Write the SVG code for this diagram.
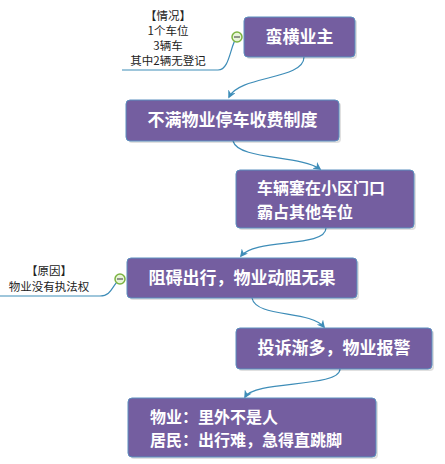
<svg xmlns="http://www.w3.org/2000/svg" width="445" height="464" viewBox="0 0 445 464">
<defs>
<style>
.node{fill:#745EA0;stroke:#5B8FBF;stroke-width:1}
.shadow{fill:#000;opacity:0.12}
.nt{fill:#fff;font-family:"Noto Sans CJK SC","Noto Sans",sans-serif;font-size:17px;font-weight:bold}
.nt2{fill:#fff;font-family:"Noto Sans CJK SC","Noto Sans",sans-serif;font-size:16px;font-weight:bold}
.ct{fill:#222;font-family:"Noto Sans CJK SC","Noto Sans",sans-serif;font-size:11.5px}
.conn{fill:none;stroke:#3E8DB8;stroke-width:1.2}
.tog{fill:#E8F5D8;stroke:#7CB342;stroke-width:1.5}
</style>
<marker id="arr" viewBox="0 0 10 10" refX="8" refY="5" markerWidth="8" markerHeight="8" orient="auto" markerUnits="userSpaceOnUse">
<path d="M0,0 L10,5 L0,10 L3,5 z" fill="#3E8DB8"/>
</marker>
</defs>
<rect width="445" height="464" fill="#fff"/>
<g id="connectors">
<path class="conn" d="M304,57 C304,80 240,75 229,97" marker-end="url(#arr)"/>
<path class="conn" d="M233,141 C238,160 300,155 320,169" marker-end="url(#arr)"/>
<path class="conn" d="M326,228 C326,248 255,238 241,256" marker-end="url(#arr)"/>
<path class="conn" d="M252,298 C256,318 310,310 324,327" marker-end="url(#arr)"/>
<path class="conn" d="M340,369 C340,388 255,380 245,397" marker-end="url(#arr)"/>
<path class="conn" d="M122,70 L218,70 C230,70 230,45 237,37"/>
<path class="conn" d="M0,296 L100,296 C112,296 112,285 120,279"/>
</g>
<g id="callout-1">
<text class="ct" x="168" y="20" text-anchor="middle">【情况】</text>
<text class="ct" x="168" y="35" text-anchor="middle">1个车位</text>
<text class="ct" x="168" y="50" text-anchor="middle">3辆车</text>
<text class="ct" x="168" y="65" text-anchor="middle">其中2辆无登记</text>
<circle class="tog" cx="237" cy="37" r="5"/>
<line x1="234" y1="37" x2="240" y2="37" stroke="#555" stroke-width="1.2"/>
</g>
<g id="callout-2">
<text class="ct" x="49" y="275" text-anchor="middle">【原因】</text>
<text class="ct" x="49" y="291" text-anchor="middle">物业没有执法权</text>
<circle class="tog" cx="120" cy="279" r="5"/>
<line x1="117" y1="279" x2="123" y2="279" stroke="#555" stroke-width="1.2"/>
</g>
<g id="node-1">
<rect class="shadow" x="246" y="19" width="111" height="40" rx="4"/>
<rect class="node" x="244" y="17" width="111" height="40" rx="4"/>
<text class="nt" x="299.5" y="43" text-anchor="middle">蛮横业主</text>
</g>
<g id="node-2">
<rect class="shadow" x="128" y="102" width="213" height="41" rx="4"/>
<rect class="node" x="126" y="100" width="213" height="41" rx="4"/>
<text class="nt" x="232.5" y="126" text-anchor="middle">不满物业停车收费制度</text>
</g>
<g id="node-3">
<rect class="shadow" x="238" y="172" width="178" height="58" rx="4"/>
<rect class="node" x="236" y="170" width="178" height="58" rx="4"/>
<text class="nt2" x="257" y="194">车辆塞在小区门口</text>
<text class="nt2" x="257" y="217.5">霸占其他车位</text>
</g>
<g id="node-4">
<rect class="shadow" x="129" y="260" width="230" height="40" rx="4"/>
<rect class="node" x="127" y="258" width="230" height="40" rx="4"/>
<text class="nt" x="242" y="284" text-anchor="middle">阻碍出行，物业动阻无果</text>
</g>
<g id="node-5">
<rect class="shadow" x="238" y="330" width="196" height="41" rx="4"/>
<rect class="node" x="236" y="328" width="196" height="41" rx="4"/>
<text class="nt" x="334" y="354" text-anchor="middle">投诉渐多，物业报警</text>
</g>
<g id="node-6">
<rect class="shadow" x="130" y="400" width="248" height="59" rx="4"/>
<rect class="node" x="128" y="398" width="248" height="59" rx="4"/>
<text class="nt2" x="150" y="422.5">物业：里外不是人</text>
<text class="nt2" x="150" y="446">居民：出行难，急得直跳脚</text>
</g>
</svg>
